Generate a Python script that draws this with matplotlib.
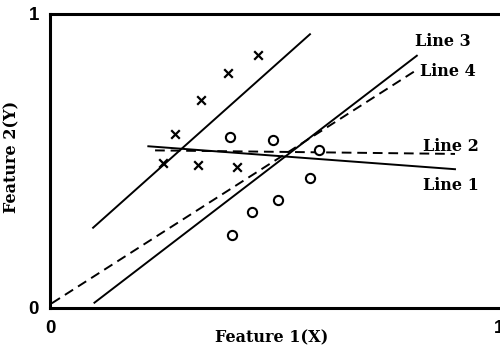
import matplotlib
matplotlib.use("Agg")
import matplotlib.pyplot as plt

# Data
cross_x = [0.464, 0.397, 0.336, 0.278, 0.251, 0.329, 0.416]
cross_y = [0.861, 0.798, 0.707, 0.591, 0.492, 0.486, 0.481]
circle_x = [0.402, 0.496, 0.600, 0.579, 0.507, 0.449, 0.406]
circle_y = [0.581, 0.570, 0.537, 0.443, 0.367, 0.328, 0.248]

upper_x = [0.096, 0.579]
upper_y = [0.273, 0.931]
line1_x = [0.219, 0.902]
line1_y = [0.550, 0.472]
line2_x = [0.234, 0.902]
line2_y = [0.536, 0.524]
line3_x = [0.099, 0.817]
line3_y = [0.018, 0.858]
line4_x = [0.004, 0.817]
line4_y = [0.016, 0.810]

labels = ["Line 1", "Line 2", "Line 3", "Line 4"]
label_x = [0.894, 0.894, 0.875, 0.886]
label_y = [0.418, 0.55, 0.905, 0.804]

fig = plt.figure(figsize=(5.0, 3.49), dpi=100)
ax = fig.add_axes([0.1, 0.1175, 0.898, 0.8425])

serif = "DejaVu Serif"
sans = "Liberation Sans"

ax.plot(upper_x, upper_y, color="black", lw=1.4)
ax.plot(line1_x, line1_y, color="black", lw=1.4)
ax.plot(line2_x, line2_y, color="black", lw=1.4, dashes=(5, 3))
ax.plot(line3_x, line3_y, color="black", lw=1.4)
ax.plot(line4_x, line4_y, color="black", lw=1.4, dashes=(5, 3))

ax.scatter(cross_x, cross_y, marker="x", s=38, color="black", linewidths=1.6, zorder=3)
ax.scatter(circle_x, circle_y, marker="o", s=44, facecolors="white",
           edgecolors="black", linewidths=1.5, zorder=3)

for t, x, y in zip(labels, label_x, label_y):
    ax.text(x, y, t, fontsize=11.5, fontfamily=serif, fontweight="bold",
            ha="center", va="center")

ax.set_xlim(0, 1)
ax.set_ylim(0, 1)
ax.set_xticks([0, 1])
ax.set_yticks([0, 1])
ax.set_xticklabels(["0", "1"], fontfamily=sans, fontweight="bold", fontsize=13.5)
ax.set_yticklabels(["0", "1"], fontfamily=sans, fontweight="bold", fontsize=13.5)
ax.tick_params(axis="x", length=0, pad=9)
ax.tick_params(axis="y", length=0, pad=8)

ax.set_xlabel("Feature 1(X)", fontfamily=serif, fontweight="bold", fontsize=11.5)
ax.set_ylabel("Feature 2(Y)", fontfamily=serif, fontweight="bold", fontsize=11.5)
ax.xaxis.set_label_coords(0.494, -0.072)
ax.yaxis.set_label_coords(-0.066, 0.514)

for s in ["left", "bottom", "top"]:
    ax.spines[s].set_linewidth(2.2)
ax.spines["right"].set_visible(False)

fig.savefig("out.png", dpi=100)
